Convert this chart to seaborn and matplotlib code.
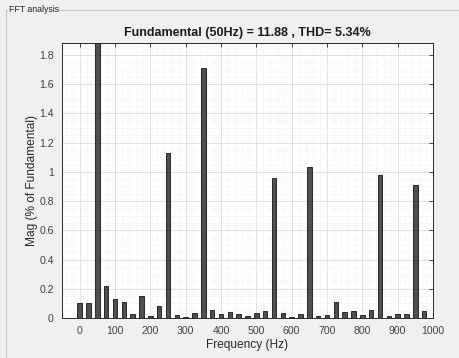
import matplotlib
matplotlib.use("Agg")
import matplotlib.pyplot as plt
import seaborn as sns
import pandas as pd
from matplotlib.ticker import MultipleLocator, FuncFormatter
from matplotlib.lines import Line2D

# ---- data ----
freqs = [0, 25, 50, 75, 100, 125, 150, 175, 200, 225,
         250, 275, 300, 325, 350, 375, 400, 425, 450, 475,
         500, 525, 550, 575, 600, 625, 650, 675, 700, 725,
         750, 775, 800, 825, 850, 875, 900, 925, 950, 975]
mags = [0.10, 0.10, 100.0, 0.22, 0.13, 0.107, 0.03, 0.153, 0.014, 0.084,
        1.13, 0.023, 0.01, 0.037, 1.71, 0.053, 0.03, 0.042, 0.03, 0.017,
        0.036, 0.049, 0.96, 0.035, 0.004, 0.028, 1.034, 0.016, 0.019, 0.11,
        0.042, 0.047, 0.023, 0.053, 0.977, 0.016, 0.028, 0.028, 0.913, 0.047]
xticks = [0, 100, 200, 300, 400, 500, 600, 700, 800, 900, 1000]
yticks = [0, 0.2, 0.4, 0.6, 0.8, 1.0, 1.2, 1.4, 1.6, 1.8]
title = "Fundamental (50Hz) = 11.88 , THD= 5.34%"
panel_title = "FFT analysis"

df = pd.DataFrame({"Frequency": freqs, "Mag": mags})

sns.set_theme(style="white")
plt.rcParams["font.family"] = ["Liberation Sans", "DejaVu Sans"]

bg = "#f0f0f0"
fig = plt.figure(figsize=(4.6, 3.58), dpi=100, facecolor=bg)
ax = fig.add_axes([62 / 460, 1 - 318 / 358, (433 - 62) / 460, (318 - 43.3) / 358])
ax.set_facecolor("white")

sns.barplot(data=df, x="Frequency", y="Mag", native_scale=True, width=0.52,
            color="#4f4f4f", saturation=1, edgecolor="#151515", linewidth=0.6,
            errorbar=None, ax=ax)

ax.set_xlim(-50, 1000)
ax.set_ylim(0, 1.88)
ax.set_xticks(xticks)
ax.set_yticks(yticks)
ax.yaxis.set_major_formatter(FuncFormatter(lambda v, p: f"{v:g}"))
ax.xaxis.set_minor_locator(MultipleLocator(20))
ax.yaxis.set_minor_locator(MultipleLocator(0.05))

ax.set_axisbelow(True)
ax.grid(True, which="major", color="#dcdcdc", linewidth=0.6, linestyle="-")
ax.grid(True, which="minor", color="#e4e4e4", linewidth=0.5, linestyle=(0, (1, 2)))

txtc = "#404040"
ax.tick_params(axis="both", which="major", direction="in", length=3, width=0.6,
               colors="#262626", labelcolor=txtc, labelsize=7.6,
               top=True, right=True, pad=6)
ax.tick_params(axis="both", which="minor", length=0)
for s in ax.spines.values():
    s.set_color("#262626")
    s.set_linewidth(0.7)

ax.set_xlabel("Frequency (Hz)", fontsize=8.6, color="#262626", labelpad=2)
ax.set_ylabel("Mag (% of Fundamental)", fontsize=8.6, color="#262626", labelpad=1)
ax.set_title(title, fontsize=9.0, fontweight="bold", color="#1a1a1a", pad=5)

# panel frame
lc = "#c8c8c8"
fig.add_artist(Line2D([6.5 / 460, 1.0], [1 - 9.5 / 358, 1 - 9.5 / 358],
                      transform=fig.transFigure, color=lc, linewidth=0.8))
fig.add_artist(Line2D([6.5 / 460, 6.5 / 460], [1 - 9.5 / 358, 0.0],
                      transform=fig.transFigure, color=lc, linewidth=0.8))
fig.text(9 / 460, 1 - 9.5 / 358, panel_title, fontsize=6.3, color="#222222",
         va="center", ha="left",
         bbox=dict(facecolor=bg, edgecolor="none", pad=0.8))

fig.savefig("out.png", dpi=100, facecolor=bg)
